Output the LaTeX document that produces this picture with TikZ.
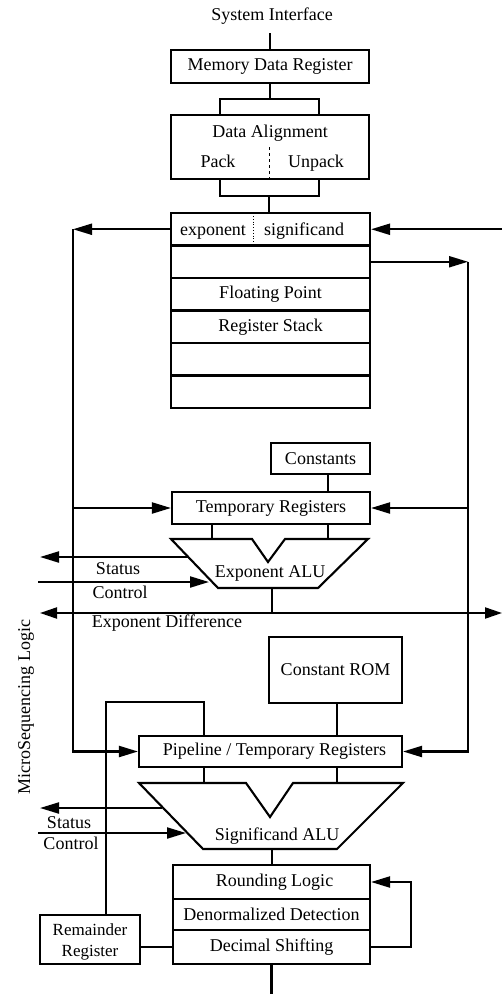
\documentclass[tikz,border=0pt]{standalone}
\usepackage{fontspec}
\setmainfont{Liberation Serif}
\usetikzlibrary{arrows.meta}
\newcommand\dfont{\fontsize{18}{20}\selectfont}
\tikzset{
  box/.style={draw, line width=2.1pt, inner sep=0pt, font=\dfont},
  lbl/.style={inner sep=0pt, font=\dfont},
  ln/.style={line width=2.1pt},
  arr/.style={ln, -{Triangle[length=19pt,width=11pt]}},
  darr/.style={ln, {Triangle[length=17pt,width=11pt]}-{Triangle[length=17pt,width=11pt]}},
}
\begin{document}
\begin{tikzpicture}[x=1pt,y=-1pt]
\useasboundingbox (0,0) rectangle (502,994);
% top
\node[lbl] (sys) at (272,16) {System Interface};
\coordinate (sysend) at (270,33);
\node[box, minimum width=198pt, minimum height=33pt] (mdr) at (270,66.5) {Memory Data Register};
\draw[ln] (sysend) -- (mdr.north);
\node[box, minimum width=198pt, minimum height=64pt] (da) at (270,147) {};
\node[lbl, anchor=base] (datxt) at (270,137) {Data Alignment};
\node[lbl, anchor=base] (pack) at (218,167) {Pack};
\node[lbl, anchor=base] (unpack) at (316,167) {Unpack};
\draw[line width=0.7pt, dashed] (269,147) -- (269,178);
% bracket 1
\coordinate (b1) at (270,99);
\draw[ln] (mdr.south) -- (b1);
\draw[ln] (220,115) -- (220,99) -- (319,99) -- (319,115);
% register stack
\node[box, minimum width=199pt, minimum height=32.5pt] (r1) at (270.5,229.25) {};
\node[box, minimum width=199pt, minimum height=32.5pt] (r2) at (270.5,261.75) {};
\node[box, minimum width=199pt, minimum height=32.5pt] (r3) at (270.5,294.25) {Floating Point};
\node[box, minimum width=199pt, minimum height=32.5pt] (r4) at (270.5,326.75) {Register Stack};
\node[box, minimum width=199pt, minimum height=32.5pt] (r5) at (270.5,359.25) {};
\node[box, minimum width=199pt, minimum height=32.5pt] (r6) at (270.5,391.75) {};
\node[lbl, anchor=base] (expo) at (213,235) {exponent};
\node[lbl, anchor=base] (sig) at (304,235) {significand};
\draw[line width=0.8pt, dotted] (253,216) -- (253,243);
% bracket 2
\draw[ln] (220,179) -- (220,196) -- (319,196) -- (319,179);
\draw[ln] (269,196) -- (r1.north -| 269,0);
% side buses
\coordinate (cL1) at (73,229.25);
\coordinate (cL3) at (73,508);
\coordinate (cR0) at (502,229.25);
\coordinate (cR1) at (468,261.75);
\coordinate (cR2) at (468,508);
\draw[arr] (r1.west) -- (cL1);
\draw[arr] (cR0) -- (r1.east);
\draw[arr] (r2.east) -- (cR1);
% constants / temp
\node[box, minimum width=99.5pt, minimum height=31pt] (const) at (320.5,458.5) {Constants};
\node[box, minimum width=198pt, minimum height=32pt] (temp) at (271,508) {Temporary Registers};
\draw[ln] (const.south -| 328,0) -- (temp.north -| 328,0);
\draw[arr] (cL3) -- (temp.west);
\draw[arr] (cR2) -- (temp.east);
% exponent ALU
\coordinate (A1) at (171,539);
\coordinate (A2) at (252,539);
\coordinate (A3) at (268,562);
\coordinate (A4) at (285,539);
\coordinate (A5) at (368,539);
\coordinate (A6) at (318,588);
\coordinate (A7) at (218,588);
\draw[ln, line join=miter] (A1) -- (A2) -- (A3) -- (A4) -- (A5) -- (A6) -- (A7) -- cycle;
\node[lbl] (ealu) at (270,573) {Exponent ALU};
\draw[ln] (temp.south -| 212,0) -- (212,539);
\draw[ln] (temp.south -| 328,0) -- (328,539);
\coordinate (es0) at (188,557);
\coordinate (es1) at (40,557);
\coordinate (ec0) at (38,582);
\coordinate (ec1) at (209,582);
\draw[arr] (es0) -- (es1);
\draw[arr] (ec0) -- (ec1);
\node[lbl] (est) at (118,569) {Status};
\node[lbl] (ect) at (120,592) {Control};
% exponent difference
\coordinate (ed) at (272,613);
\coordinate (ed0) at (40,613);
\coordinate (ed1) at (502,613);
\draw[ln] (272,588) -- (ed);
\draw[darr] (ed0) -- (ed1);
\node[lbl] (edt) at (167,623) {Exponent Difference};
% micro sequencing
\node[lbl, rotate=90] (micro) at (26,707) {MicroSequencing Logic};
% constant ROM / pipeline
\node[box, minimum width=133pt, minimum height=66pt] (rom) at (335.5,670) {Constant ROM};
\node[box, minimum width=263pt, minimum height=31pt] (pipe) at (270.5,751.5) {\hspace{8pt}Pipeline / Temporary Registers};
\draw[ln] (rom.south -| 337,0) -- (pipe.north -| 337,0);
\draw[arr] (cL1) |- (pipe.west);
\draw[arr] (cR1) |- (pipe.east);
% significand ALU
\coordinate (S1) at (139,783);
\coordinate (S2) at (246,783);
\coordinate (S3) at (270,817);
\coordinate (S4) at (293,783);
\coordinate (S5) at (403,783);
\coordinate (S6) at (337,849);
\coordinate (S7) at (203,849);
\draw[ln, line join=miter] (S1) -- (S2) -- (S3) -- (S4) -- (S5) -- (S6) -- (S7) -- cycle;
\node[lbl] (salu) at (277,836) {Significand ALU};
\draw[ln] (pipe.south -| 204,0) -- (204,783);
\draw[ln] (pipe.south -| 337,0) -- (337,783);
\coordinate (ss0) at (162,808);
\coordinate (ss1) at (40,808);
\coordinate (sc0) at (38,833);
\coordinate (sc1) at (186,833);
\draw[arr] (ss0) -- (ss1);
\draw[arr] (sc0) -- (sc1);
\node[lbl] (sst) at (69,823) {Status};
\node[lbl] (sct) at (71,843) {Control};
% rounding block
\node[box, minimum width=197pt, minimum height=34pt] (rnd) at (271.5,882) {\hspace{6pt}Rounding Logic};
\node[box, minimum width=197pt, minimum height=31pt] (den) at (271.5,914.5) {Denormalized Detection};
\node[box, minimum width=197pt, minimum height=34pt] (dec) at (271.5,947) {Decimal Shifting};
\draw[ln] (272,849) -- (rnd.north -| 272,0);
\draw[arr] (dec.east) -- ++(40,0) |- (rnd.east);
% remainder
\node[box, minimum width=100pt, minimum height=49pt] (rem) at (90,939.5) {};
\node[lbl, anchor=base, font=\fontsize{17}{19}\selectfont] (remt1) at (90,935.5) {Remainder};
\node[lbl, anchor=base, font=\fontsize{17}{19}\selectfont] (remt2) at (90,956) {Register};
\coordinate (rmc) at (204,702);
\draw[ln] (rem.north -| 106,0) |- (rmc) -- (pipe.north -| 204,0);
\draw[ln] (rem.east |- dec.west) -- (dec.west);
% bottom
\coordinate (bot) at (271.5,994);
\draw[ln] (dec.south) -- (bot);
\end{tikzpicture}
\end{document}
